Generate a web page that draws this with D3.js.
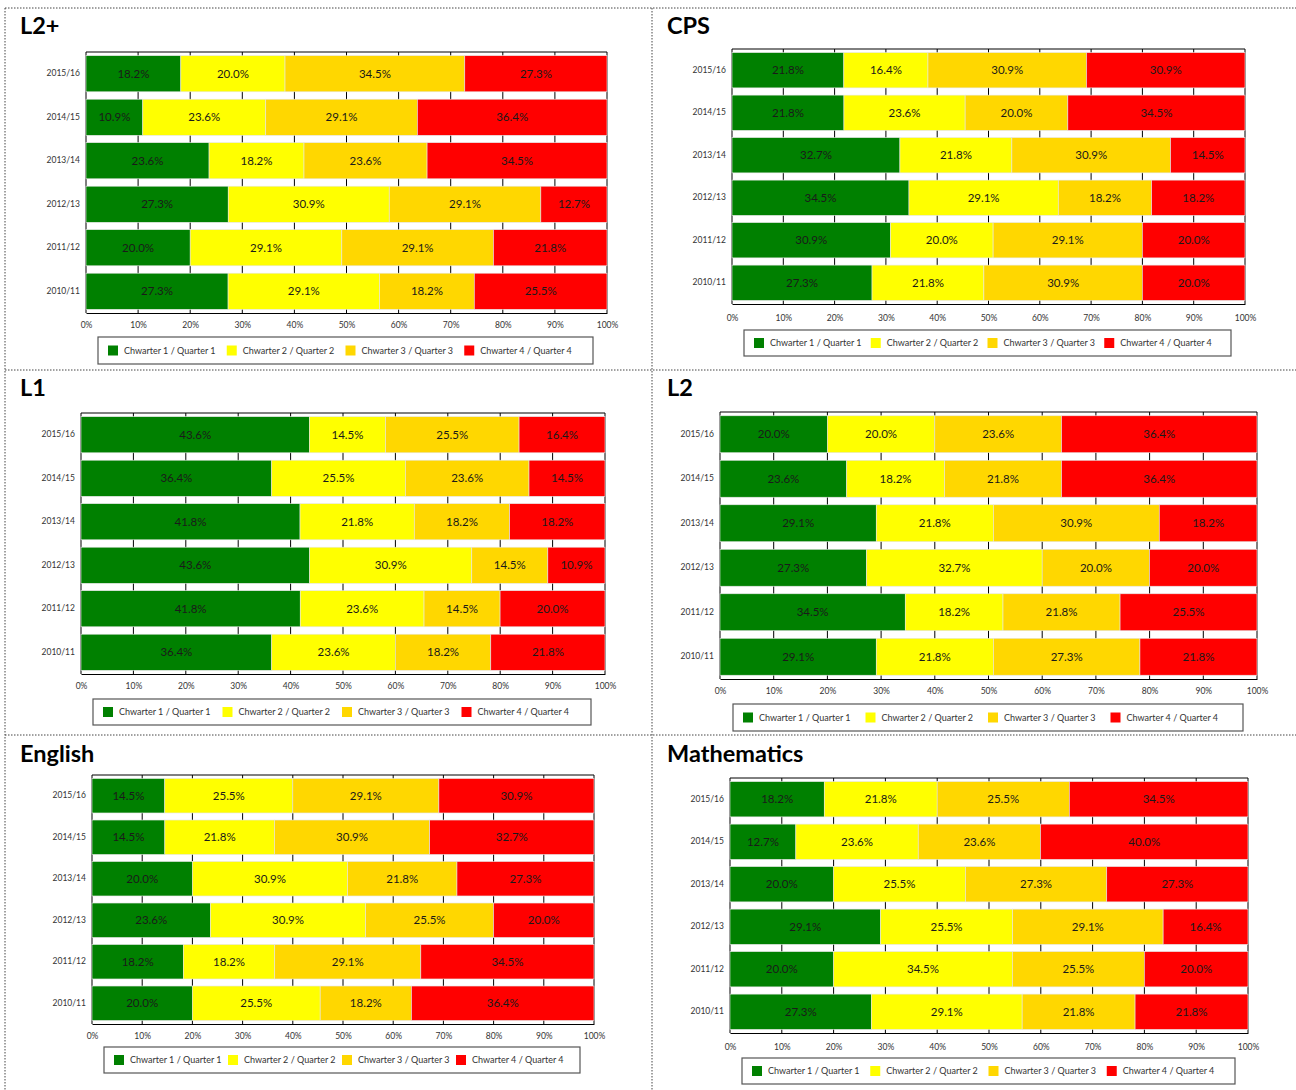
<!DOCTYPE html>
<html><head><meta charset="utf-8">
<script src="https://cdn.jsdelivr.net/npm/d3@7"></script>
<style>
html,body{margin:0;padding:0;background:#fff;}
svg{display:block;font-family:Lato,"Open Sans",sans-serif;}
</style></head>
<body>
<svg id="chart" width="1296" height="1090"></svg>
<script>
// ---------- DATA ----------
const years = ["2015/16","2014/15","2013/14","2012/13","2011/12","2010/11"];
const seriesNames = ["Chwarter 1 / Quarter 1","Chwarter 2 / Quarter 2","Chwarter 3 / Quarter 3","Chwarter 4 / Quarter 4"];
const seriesColors = ["#008000","#FFFF00","#FFD700","#FF0000"];
const xTicks = [0,10,20,30,40,50,60,70,80,90,100];
const panelTitles = ["L2+","CPS","L1","L2","English","Mathematics"];

const valuesL2plus = [
  [18.2,20.0,34.5,27.3],
  [10.9,23.6,29.1,36.4],
  [23.6,18.2,23.6,34.5],
  [27.3,30.9,29.1,12.7],
  [20.0,29.1,29.1,21.8],
  [27.3,29.1,18.2,25.5]
];
const valuesCPS = [
  [21.8,16.4,30.9,30.9],
  [21.8,23.6,20.0,34.5],
  [32.7,21.8,30.9,14.5],
  [34.5,29.1,18.2,18.2],
  [30.9,20.0,29.1,20.0],
  [27.3,21.8,30.9,20.0]
];
const valuesL1 = [
  [43.6,14.5,25.5,16.4],
  [36.4,25.5,23.6,14.5],
  [41.8,21.8,18.2,18.2],
  [43.6,30.9,14.5,10.9],
  [41.8,23.6,14.5,20.0],
  [36.4,23.6,18.2,21.8]
];
const valuesL2 = [
  [20.0,20.0,23.6,36.4],
  [23.6,18.2,21.8,36.4],
  [29.1,21.8,30.9,18.2],
  [27.3,32.7,20.0,20.0],
  [34.5,18.2,21.8,25.5],
  [29.1,21.8,27.3,21.8]
];
const valuesEnglish = [
  [14.5,25.5,29.1,30.9],
  [14.5,21.8,30.9,32.7],
  [20.0,30.9,21.8,27.3],
  [23.6,30.9,25.5,20.0],
  [18.2,18.2,29.1,34.5],
  [20.0,25.5,18.2,36.4]
];
const valuesMaths = [
  [18.2,21.8,25.5,34.5],
  [12.7,23.6,23.6,40.0],
  [20.0,25.5,27.3,27.3],
  [29.1,25.5,29.1,16.4],
  [20.0,34.5,25.5,20.0],
  [27.3,29.1,21.8,21.8]
];
const panelValues = [valuesL2plus, valuesCPS, valuesL1, valuesL2, valuesEnglish, valuesMaths];

// ---------- LAYOUT ----------
const layouts = [
  {tx:20, ty:34, x0:86,  x1:607,  top:52,  bottom:313, tickY:328, lx:98,  lx1:593,  ly:337, ly1:364},
  {tx:667,ty:34, x0:732, x1:1245, top:49,  bottom:304, tickY:321, lx:744, lx1:1231, ly:330, ly1:356},
  {tx:20, ty:396,x0:81,  x1:605,  top:413, bottom:674, tickY:689, lx:93,  lx1:591,  ly:699, ly1:725},
  {tx:667,ty:396,x0:720, x1:1257, top:412, bottom:679, tickY:694, lx:733, lx1:1243, ly:704, ly1:731},
  {tx:20, ty:762,x0:92,  x1:594,  top:775, bottom:1024,tickY:1039,lx:104, lx1:580,  ly:1047,ly1:1073},
  {tx:667,ty:762,x0:730, x1:1248, top:778, bottom:1033,tickY:1050,lx:742, lx1:1235, ly:1058,ly1:1084}
];

const svg = d3.select("#chart");

// dotted panel borders
const border = svg.append("g").attr("stroke","#444").attr("stroke-width",1).attr("stroke-dasharray","1.5,1.5").attr("fill","none");
[[5,8,1296,8],[5,8,5,1090],[652,8,652,1090],[5,370,1296,370],[5,735,1296,735]].forEach(l=>{
  border.append("line").attr("x1",l[0]).attr("y1",l[1]).attr("x2",l[2]).attr("y2",l[3]);
});

const stack = d3.stack().keys(d3.range(4)).value((d,k)=>d[k]).offset(d3.stackOffsetExpand);

panelTitles.forEach((title,pi)=>{
  const L = layouts[pi];
  const vals = panelValues[pi];
  const g = svg.append("g");

  g.append("text").attr("x",L.tx).attr("y",L.ty).text(title)
    .attr("font-size",23.5).attr("font-weight","bold").attr("fill","#000");

  const x = d3.scaleLinear().domain([0,100]).range([L.x0,L.x1]);
  const y = d3.scaleBand().domain(years).range([L.top,L.bottom]).paddingInner(0.17).paddingOuter(0.085);

  // gridlines
  g.append("g").selectAll("line").data(xTicks).join("line")
    .attr("x1",d=>x(d)).attr("x2",d=>x(d)).attr("y1",L.top).attr("y2",L.bottom)
    .attr("stroke","#000").attr("stroke-width",1);
  g.append("line").attr("x1",L.x0).attr("x2",L.x1).attr("y1",L.top).attr("y2",L.top).attr("stroke","#000");

  const rows = vals.map((v,i)=>Object.assign({year:years[i]}, v));
  const stacked = stack(rows);

  stacked.forEach((layer,si)=>{
    const lg = g.append("g");
    lg.selectAll("rect").data(layer).join("rect")
      .attr("x",d=>x(d[0]*100)).attr("width",d=>x(d[1]*100)-x(d[0]*100))
      .attr("y",d=>y(d.data.year)).attr("height",y.bandwidth())
      .attr("fill",seriesColors[si]).attr("stroke","#e6e6e6").attr("stroke-width",0.6);
    lg.selectAll("text").data(layer).join("text")
      .attr("x",d=>(x(d[0]*100)+x(d[1]*100))/2)
      .attr("y",d=>y(d.data.year)+y.bandwidth()/2)
      .attr("dy","0.36em").attr("text-anchor","middle")
      .attr("font-size",11.5).attr("fill","#1a1a1a")
      .text(d=>d.data[si].toFixed(1)+"%");
  });

  // bottom axis
  const xAxis = d3.axisBottom(x).tickValues(xTicks).tickSize(0).tickFormat(d=>d+"%");
  const ax = g.append("g").attr("transform",`translate(0,${L.bottom})`).call(xAxis);
  ax.select(".domain").attr("stroke","#000").attr("stroke-width",1.2);
  ax.selectAll("text").attr("font-size",8.5).attr("fill","#333").attr("font-family","Lato,sans-serif")
    .attr("y",L.tickY-L.bottom).attr("dy",0);

  // left labels
  const yAxis = d3.axisLeft(y).tickSize(0).tickPadding(6);
  const ay = g.append("g").attr("transform",`translate(${L.x0},0)`).call(yAxis);
  ay.select(".domain").remove();
  ay.selectAll("text").attr("font-size",8.5).attr("fill","#333").attr("font-family","Lato,sans-serif");

  // legend
  const lgd = g.append("g");
  lgd.append("rect").attr("x",L.lx).attr("y",L.ly).attr("width",L.lx1-L.lx).attr("height",L.ly1-L.ly)
    .attr("fill","#fff").attr("stroke","#555").attr("stroke-width",1.2);
  const step = (L.lx1-L.lx-20)/4;
  const cy = (L.ly+L.ly1)/2;
  seriesNames.forEach((nm,i)=>{
    const ix = L.lx+10+i*step;
    lgd.append("rect").attr("x",ix).attr("y",cy-5).attr("width",10).attr("height",10).attr("fill",seriesColors[i]);
    lgd.append("text").attr("x",ix+16).attr("y",cy).attr("dy","0.35em")
      .attr("font-size",9).attr("fill","#333").text(nm);
  });
});
</script>
</body></html>
